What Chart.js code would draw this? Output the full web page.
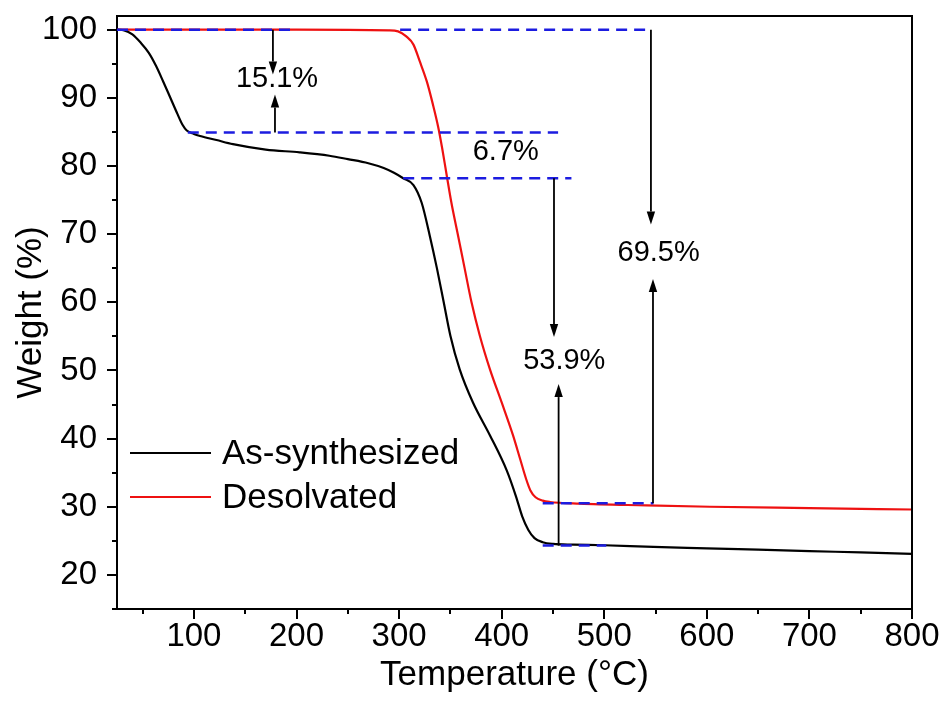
<!DOCTYPE html>
<html>
<head>
<meta charset="utf-8">
<title>TGA curves</title>
<script src="https://cdn.jsdelivr.net/npm/chart.js@4.4.1/dist/chart.umd.min.js"></script>
<style>
  html, body { margin: 0; padding: 0; background: #fff; }
  #wrap { width: 946px; height: 713px; }
</style>
</head>
<body>
<div id="wrap"><canvas id="tga" width="946" height="713"></canvas></div>
<script>
// ---- data -------------------------------------------------------------
const X_TICKS = [100, 200, 300, 400, 500, 600, 700, 800];
const X_MINOR = [50, 150, 250, 350, 450, 550, 650, 750];
const Y_TICKS = [20, 30, 40, 50, 60, 70, 80, 90, 100];
const Y_MINOR = [15, 25, 35, 45, 55, 65, 75, 85, 95];

const SERIES_NAMES = ['As-synthesized', 'Desolvated'];

// As-synthesized sample: temperature (°C) and weight (%)
const TEMP_AS = [25, 32, 40, 48, 56, 63, 70, 77, 84, 89, 93, 100, 106, 122, 138, 170, 203, 232,
  250, 270, 285, 295, 304, 314, 322, 330, 337, 343.5, 350, 359, 372, 388.5, 405, 414, 420,
  426, 432, 440, 450, 470, 500, 548, 600, 650, 700, 750, 800];
const WEIGHT_AS = [100, 99.9, 99.3, 98.1, 96.6, 94.7, 92.4, 90.0, 87.6, 86.0, 85.2, 84.7, 84.4,
  83.8, 83.2, 82.4, 82.0, 81.5, 81.0, 80.4, 79.7, 79.0, 78.2, 77.2, 74.6, 69.7, 64.9, 60.0,
  55.1, 50.2, 45.3, 40.5, 35.3, 31.5, 28.6, 26.6, 25.4, 24.8, 24.55, 24.45, 24.35, 24.1, 23.9,
  23.7, 23.5, 23.3, 23.1];

// Desolvated sample
const TEMP_DES = [25, 100, 200, 290, 299, 307, 314, 320, 327, 333, 338, 342, 346, 351, 357.6,
  364, 370.6, 378.7, 388.5, 400, 411, 418, 424, 428, 433, 440, 447, 476, 541, 603, 700, 800];
const WEIGHT_DES = [100, 100, 100, 99.9, 99.75, 99.0, 97.8, 95.4, 92.4, 89.0, 85.8, 82.6, 79.0,
  74.6, 69.7, 64.9, 60.0, 55.1, 50.2, 45.3, 40.5, 37.0, 34.0, 32.4, 31.4, 30.9, 30.7, 30.45,
  30.2, 30.0, 29.8, 29.6];

// Weight-loss steps (%) printed on the plot
const LOSS_AS = [15.1, 6.7, 53.9];
const LOSS_DES = [69.5];

// Plateau levels that follow from the stated losses
const round1 = v => Math.round(v * 10) / 10;
const LEVEL_AS = LOSS_AS.reduce((acc, d) => acc.concat(round1(acc[acc.length - 1] - d)), [100]);
const LEVEL_DES = LOSS_DES.reduce((acc, d) => acc.concat(round1(acc[acc.length - 1] - d)), [100]);

// Dashed guide lines: level and temperature span
const GUIDE_LEVEL = [LEVEL_AS[0], LEVEL_AS[1], LEVEL_AS[2], LEVEL_AS[3], LEVEL_DES[0], LEVEL_DES[1]];
const GUIDE_FROM = [25, 94, 304, 440, 301, 440];
const GUIDE_TO = [198, 455, 468, 502, 546, 548];

// Arrows: temperature position, start level, tip level
const ARROW_X = [177, 179, 451, 455.5, 545.5, 547.5];
const ARROW_FROM = [LEVEL_AS[0], LEVEL_AS[1], LEVEL_AS[2], LEVEL_AS[3], LEVEL_DES[0], LEVEL_DES[1]];
const ARROW_TIP = [93.4, 90.5, 54.9, 48.0, 71.4, 63.4];

// Step labels and their anchor (temperature, weight)
const LABEL_TEXT = [LOSS_AS[0], LOSS_AS[1], LOSS_AS[2], LOSS_DES[0]].map(v => v.toFixed(1) + '%');
const LABEL_X = [181, 404, 461, 553];
const LABEL_Y = [92.7, 82.0, 51.4, 67.2];

// ---- styling ----------------------------------------------------------
const FONT = "'Liberation Sans', Arial, Helvetica, sans-serif";
const BLACK = '#000000';
const RED = '#ee1111';
const BLUE = '#1c1ce0';

const pts = (xs, ys) => xs.map((x, i) => ({ x, y: ys[i] }));

const guideSets = GUIDE_LEVEL.map((lv, i) => ({
  label: 'guide' + i,
  data: [{ x: GUIDE_FROM[i], y: lv }, { x: GUIDE_TO[i], y: lv }],
  showLine: true,
  borderColor: BLUE,
  borderWidth: 2.5,
  borderDash: [11, 7],
  pointRadius: 0,
  order: 0,
  isGuide: true
}));

const curveSets = [
  {
    label: SERIES_NAMES[0],
    data: pts(TEMP_AS, WEIGHT_AS),
    showLine: true,
    borderColor: BLACK,
    borderWidth: 2.2,
    pointRadius: 0,
    cubicInterpolationMode: 'monotone',
    order: 1
  },
  {
    label: SERIES_NAMES[1],
    data: pts(TEMP_DES, WEIGHT_DES),
    showLine: true,
    borderColor: RED,
    borderWidth: 2.2,
    pointRadius: 0,
    cubicInterpolationMode: 'monotone',
    order: 1
  }
];

// Frame, minor ticks, arrows, step labels and the in-plot legend
const decorations = {
  id: 'decorations',
  afterDatasetsDraw(chart) {
    const { ctx, chartArea: a, scales: { x, y } } = chart;
    ctx.save();

    // top and right frame
    ctx.strokeStyle = BLACK;
    ctx.lineWidth = 2;
    ctx.beginPath();
    ctx.moveTo(a.left - 1, a.top);
    ctx.lineTo(a.right, a.top);
    ctx.lineTo(a.right, a.bottom + 1);
    ctx.stroke();

    // minor ticks
    ctx.beginPath();
    X_MINOR.forEach(v => {
      const px = Math.round(x.getPixelForValue(v));
      ctx.moveTo(px, a.bottom);
      ctx.lineTo(px, a.bottom + 5);
    });
    Y_MINOR.forEach(v => {
      const py = Math.round(y.getPixelForValue(v));
      ctx.moveTo(a.left, py);
      ctx.lineTo(a.left - 5, py);
    });
    ctx.stroke();

    // arrows
    ctx.fillStyle = BLACK;
    ctx.lineWidth = 1.8;
    ARROW_X.forEach((t, i) => {
      const px = x.getPixelForValue(t);
      const p0 = y.getPixelForValue(ARROW_FROM[i]);
      const p1 = y.getPixelForValue(ARROW_TIP[i]);
      const dir = Math.sign(p1 - p0);
      const head = 13;
      ctx.beginPath();
      ctx.moveTo(px, p0);
      ctx.lineTo(px, p1 - dir * head);
      ctx.stroke();
      ctx.beginPath();
      ctx.moveTo(px, p1);
      ctx.lineTo(px - 4.2, p1 - dir * head);
      ctx.lineTo(px + 4.2, p1 - dir * head);
      ctx.closePath();
      ctx.fill();
    });

    // step labels
    ctx.font = '29px ' + FONT;
    ctx.textAlign = 'center';
    ctx.textBaseline = 'middle';
    LABEL_TEXT.forEach((txt, i) => {
      ctx.fillText(txt, x.getPixelForValue(LABEL_X[i]), y.getPixelForValue(LABEL_Y[i]));
    });

    // legend
    ctx.font = '35px ' + FONT;
    ctx.textAlign = 'left';
    chart.data.datasets.filter(d => !d.isGuide).forEach((d, i) => {
      const ly = a.top + 437 + i * 44;
      ctx.strokeStyle = d.borderColor;
      ctx.lineWidth = 2.2;
      ctx.beginPath();
      ctx.moveTo(a.left + 13, ly);
      ctx.lineTo(a.left + 94, ly);
      ctx.stroke();
      ctx.fillStyle = BLACK;
      ctx.fillText(d.label, a.left + 105, ly + 1);
    });

    ctx.restore();
  }
};

const axisCommon = {
  type: 'linear',
  border: { display: true, color: BLACK, width: 2 },
  grid: { drawOnChartArea: false, drawTicks: true, tickLength: 10, color: BLACK, lineWidth: 2 },
  title: { display: true, color: BLACK }
};

new Chart(document.getElementById('tga'), {
  type: 'scatter',
  data: { datasets: guideSets.concat(curveSets) },
  options: {
    responsive: false,
    animation: false,
    devicePixelRatio: 1,
    layout: { padding: { left: 0, right: 34, top: 16, bottom: 0 } },
    plugins: { legend: { display: false }, tooltip: { enabled: false } },
    scales: {
      x: Object.assign({}, axisCommon, {
        min: 25, max: 800,
        ticks: { color: BLACK, font: { family: FONT, size: 33, lineHeight: 1 }, padding: 1 },
        title: { display: true, text: 'Temperature (°C)', color: BLACK,
                 font: { family: FONT, size: 35 }, padding: { top: 0, bottom: 17 } },
        afterBuildTicks: s => { s.ticks = X_TICKS.map(v => ({ value: v })); },
        afterFit: s => { s.height = 104; s.paddingLeft = 0; s.paddingRight = 0; }
      }),
      y: Object.assign({}, axisCommon, {
        min: 15, max: 102,
        ticks: { color: BLACK, font: { family: FONT, size: 33 }, padding: 10 },
        title: { display: true, text: 'Weight (%)', color: BLACK,
                 font: { family: FONT, size: 35 }, padding: { top: 10, bottom: 0 } },
        afterBuildTicks: s => { s.ticks = Y_TICKS.map(v => ({ value: v })); },
        afterFit: s => { s.width = 117; s.paddingTop = 0; s.paddingBottom = 0; }
      })
    }
  },
  plugins: [decorations]
});
</script>
</body>
</html>
